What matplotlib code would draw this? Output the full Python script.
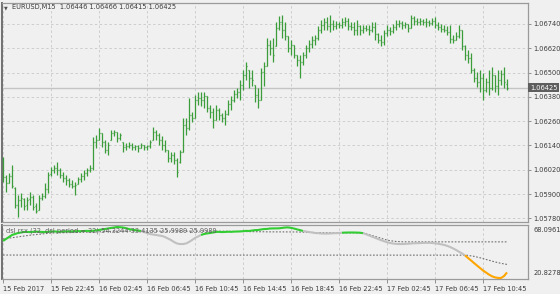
import matplotlib
matplotlib.use('Agg')
import matplotlib.pyplot as plt
import matplotlib.transforms as mtransforms
import numpy as np

plt.rcParams['font.family'] = ['DejaVu Sans']

# EURUSD M15 bars (open, high, low, close)
opens = [1.06069, 1.05985, 1.05955, 1.05990, 1.05930, 1.05846, 1.05871, 1.05876, 1.05846, 1.05876,
         1.05886, 1.05841, 1.05822, 1.05881, 1.05891, 1.05925, 1.05999, 1.06019, 1.06029, 1.06019,
         1.05995, 1.05980, 1.05970, 1.05950, 1.05940, 1.05950, 1.05975, 1.05990, 1.06004, 1.06019,
         1.06029, 1.06158, 1.06167, 1.06202, 1.06158, 1.06118, 1.06167, 1.06202, 1.06207, 1.06177,
         1.06158, 1.06133, 1.06138, 1.06143, 1.06133, 1.06138, 1.06128, 1.06143, 1.06133, 1.06138,
         1.06167, 1.06207, 1.06192, 1.06167, 1.06143, 1.06118, 1.06078, 1.06093, 1.06069, 1.06059,
         1.06108, 1.06242, 1.06227, 1.06291, 1.06276, 1.06365, 1.06375, 1.06365, 1.06385, 1.06325,
         1.06306, 1.06266, 1.06316, 1.06291, 1.06276, 1.06296, 1.06345, 1.06365, 1.06395, 1.06405,
         1.06439, 1.06489, 1.06513, 1.06474, 1.06439, 1.06390, 1.06365, 1.06503, 1.06533, 1.06637,
         1.06622, 1.06632, 1.06721, 1.06750, 1.06711, 1.06681, 1.06622, 1.06637, 1.06587, 1.06563,
         1.06553, 1.06587, 1.06622, 1.06642, 1.06661, 1.06671, 1.06711, 1.06736, 1.06750, 1.06731,
         1.06740, 1.06731, 1.06740, 1.06736, 1.06750, 1.06755, 1.06731, 1.06726, 1.06711, 1.06731,
         1.06711, 1.06721, 1.06716, 1.06711, 1.06726, 1.06691, 1.06661, 1.06652, 1.06696, 1.06711,
         1.06706, 1.06726, 1.06740, 1.06745, 1.06736, 1.06740, 1.06721, 1.06770, 1.06755, 1.06750,
         1.06755, 1.06750, 1.06750, 1.06745, 1.06755, 1.06736, 1.06726, 1.06716, 1.06711, 1.06701,
         1.06666, 1.06661, 1.06681, 1.06711, 1.06632, 1.06587, 1.06572, 1.06513, 1.06474, 1.06454,
         1.06474, 1.06414, 1.06454, 1.06424, 1.06489, 1.06434, 1.06464, 1.06493, 1.06446]
highs = [1.06083, 1.05995, 1.06004, 1.06044, 1.05935, 1.05896, 1.05906, 1.05881, 1.05886, 1.05911,
         1.05896, 1.05856, 1.05896, 1.05906, 1.05955, 1.06009, 1.06034, 1.06044, 1.06059, 1.06029,
         1.06009, 1.05995, 1.05980, 1.05970, 1.05960, 1.05985, 1.06004, 1.06019, 1.06029, 1.06044,
         1.06182, 1.06192, 1.06227, 1.06202, 1.06167, 1.06158, 1.06217, 1.06217, 1.06207, 1.06202,
         1.06158, 1.06153, 1.06158, 1.06153, 1.06143, 1.06143, 1.06153, 1.06143, 1.06143, 1.06167,
         1.06232, 1.06217, 1.06202, 1.06187, 1.06167, 1.06118, 1.06108, 1.06108, 1.06078, 1.06118,
         1.06276, 1.06276, 1.06375, 1.06306, 1.06390, 1.06405, 1.06405, 1.06405, 1.06385, 1.06340,
         1.06325, 1.06340, 1.06325, 1.06301, 1.06316, 1.06365, 1.06385, 1.06414, 1.06424, 1.06464,
         1.06513, 1.06553, 1.06513, 1.06513, 1.06439, 1.06424, 1.06523, 1.06553, 1.06671, 1.06661,
         1.06671, 1.06750, 1.06780, 1.06785, 1.06750, 1.06681, 1.06661, 1.06637, 1.06587, 1.06587,
         1.06602, 1.06637, 1.06661, 1.06681, 1.06686, 1.06731, 1.06760, 1.06770, 1.06775, 1.06785,
         1.06760, 1.06755, 1.06750, 1.06770, 1.06775, 1.06770, 1.06750, 1.06750, 1.06760, 1.06736,
         1.06736, 1.06736, 1.06736, 1.06750, 1.06750, 1.06696, 1.06686, 1.06711, 1.06736, 1.06726,
         1.06740, 1.06760, 1.06760, 1.06755, 1.06750, 1.06740, 1.06785, 1.06780, 1.06770, 1.06770,
         1.06765, 1.06770, 1.06760, 1.06770, 1.06775, 1.06750, 1.06740, 1.06736, 1.06731, 1.06736,
         1.06686, 1.06701, 1.06736, 1.06711, 1.06637, 1.06612, 1.06597, 1.06523, 1.06503, 1.06513,
         1.06498, 1.06474, 1.06513, 1.06528, 1.06489, 1.06513, 1.06513, 1.06528, 1.06466]
lows = [1.05960, 1.05911, 1.05955, 1.05930, 1.05831, 1.05787, 1.05836, 1.05822, 1.05822, 1.05846,
        1.05822, 1.05807, 1.05822, 1.05871, 1.05881, 1.05906, 1.05990, 1.06004, 1.05995, 1.05980,
        1.05960, 1.05945, 1.05935, 1.05930, 1.05896, 1.05950, 1.05960, 1.05970, 1.05990, 1.06009,
        1.06019, 1.06128, 1.06167, 1.06133, 1.06103, 1.06093, 1.06167, 1.06187, 1.06158, 1.06167,
        1.06108, 1.06118, 1.06128, 1.06118, 1.06118, 1.06108, 1.06128, 1.06118, 1.06118, 1.06128,
        1.06167, 1.06167, 1.06143, 1.06118, 1.06108, 1.06059, 1.06059, 1.06049, 1.05985, 1.06054,
        1.06108, 1.06192, 1.06217, 1.06256, 1.06276, 1.06340, 1.06335, 1.06325, 1.06306, 1.06276,
        1.06227, 1.06266, 1.06266, 1.06256, 1.06242, 1.06291, 1.06316, 1.06355, 1.06375, 1.06365,
        1.06414, 1.06464, 1.06424, 1.06434, 1.06355, 1.06325, 1.06365, 1.06434, 1.06533, 1.06587,
        1.06553, 1.06632, 1.06711, 1.06671, 1.06661, 1.06602, 1.06587, 1.06572, 1.06533, 1.06474,
        1.06538, 1.06572, 1.06602, 1.06622, 1.06637, 1.06661, 1.06696, 1.06711, 1.06711, 1.06701,
        1.06711, 1.06716, 1.06721, 1.06721, 1.06731, 1.06711, 1.06711, 1.06686, 1.06686, 1.06686,
        1.06696, 1.06706, 1.06686, 1.06701, 1.06661, 1.06647, 1.06632, 1.06637, 1.06681, 1.06686,
        1.06696, 1.06711, 1.06726, 1.06716, 1.06721, 1.06701, 1.06721, 1.06736, 1.06736, 1.06736,
        1.06736, 1.06726, 1.06731, 1.06736, 1.06721, 1.06711, 1.06701, 1.06701, 1.06686, 1.06647,
        1.06647, 1.06661, 1.06671, 1.06612, 1.06563, 1.06548, 1.06498, 1.06453, 1.06429, 1.06405,
        1.06365, 1.06405, 1.06390, 1.06414, 1.06405, 1.06390, 1.06439, 1.06424, 1.06415]
closes = [1.05985, 1.05955, 1.05990, 1.05940, 1.05846, 1.05871, 1.05881, 1.05841, 1.05871, 1.05886,
          1.05836, 1.05817, 1.05881, 1.05891, 1.05925, 1.05995, 1.06019, 1.06029, 1.06019, 1.05995,
          1.05980, 1.05970, 1.05950, 1.05940, 1.05945, 1.05975, 1.05990, 1.06004, 1.06019, 1.06029,
          1.06158, 1.06167, 1.06202, 1.06158, 1.06118, 1.06143, 1.06202, 1.06207, 1.06177, 1.06192,
          1.06133, 1.06138, 1.06143, 1.06133, 1.06138, 1.06128, 1.06143, 1.06133, 1.06138, 1.06158,
          1.06207, 1.06192, 1.06167, 1.06143, 1.06118, 1.06078, 1.06093, 1.06069, 1.06009, 1.06108,
          1.06242, 1.06227, 1.06291, 1.06276, 1.06365, 1.06375, 1.06365, 1.06385, 1.06325, 1.06306,
          1.06266, 1.06316, 1.06291, 1.06276, 1.06296, 1.06345, 1.06365, 1.06395, 1.06405, 1.06439,
          1.06489, 1.06533, 1.06474, 1.06464, 1.06390, 1.06365, 1.06503, 1.06533, 1.06637, 1.06622,
          1.06587, 1.06721, 1.06750, 1.06711, 1.06681, 1.06622, 1.06637, 1.06587, 1.06563, 1.06553,
          1.06587, 1.06622, 1.06642, 1.06661, 1.06671, 1.06711, 1.06736, 1.06750, 1.06731, 1.06740,
          1.06731, 1.06740, 1.06736, 1.06750, 1.06755, 1.06731, 1.06726, 1.06711, 1.06731, 1.06711,
          1.06721, 1.06716, 1.06711, 1.06726, 1.06691, 1.06661, 1.06652, 1.06696, 1.06711, 1.06706,
          1.06726, 1.06740, 1.06745, 1.06736, 1.06740, 1.06721, 1.06770, 1.06755, 1.06750, 1.06755,
          1.06750, 1.06750, 1.06745, 1.06755, 1.06736, 1.06726, 1.06716, 1.06711, 1.06701, 1.06666,
          1.06661, 1.06681, 1.06711, 1.06632, 1.06587, 1.06572, 1.06513, 1.06474, 1.06454, 1.06474,
          1.06414, 1.06454, 1.06424, 1.06489, 1.06434, 1.06464, 1.06493, 1.06454, 1.06425]

time_labels = ['15 Feb 2017', '15 Feb 22:45', '16 Feb 02:45', '16 Feb 06:45', '16 Feb 10:45',
               '16 Feb 14:45', '16 Feb 18:45', '16 Feb 22:45', '17 Feb 02:45', '17 Feb 06:45',
               '17 Feb 10:45']
bars_per_label = 16
price_ticks = [1.05780, 1.05900, 1.06020, 1.06140, 1.06260, 1.06380, 1.06500, 1.06620, 1.06740]
last_price = 1.06425

# dsl rsx indicator
rsx = [55.1, 57.0, 58.8, 60.7, 61.6, 62.5, 63.0, 63.5, 63.5, 63.4,
       63.6, 63.8, 63.7, 63.5, 63.4, 63.6, 63.9, 64.0, 63.8, 63.7,
       63.9, 64.0, 64.1, 64.0, 64.2, 64.3, 64.2, 64.4, 64.5, 64.4,
       64.6, 64.9, 65.3, 65.8, 66.2, 66.7, 67.2, 67.6, 68.0961, 67.9,
       67.6, 67.0, 66.2, 65.6, 65.2, 64.8, 64.4, 63.5, 62.5, 61.6,
       61.1, 60.7, 60.2, 59.8, 58.8, 57.4, 56.0, 54.2, 52.8, 52.3,
       52.3, 52.8, 54.2, 56.0, 57.9, 59.3, 60.7, 61.6, 62.1, 62.5,
       63.0, 63.5, 63.6, 63.4, 63.5, 63.7, 63.6, 63.8, 63.9, 64.0,
       64.2, 64.5, 64.4, 64.8, 65.2, 65.3, 65.8, 66.2, 66.3, 66.7,
       66.8, 66.8, 66.9, 67.2, 67.6, 67.7, 67.3, 66.7, 65.9, 65.2,
       64.4, 63.9, 63.4, 63.0, 62.5, 62.4, 62.1, 62.0, 62.0, 62.1,
       62.3, 62.4, 62.5, 62.8, 62.9, 63.0, 63.0, 63.0, 62.9, 62.8,
       62.4, 61.4, 60.3, 59.2, 58.1, 57.0, 55.9, 54.9, 54.0, 53.3,
       52.8, 52.5, 52.3, 52.3, 52.4, 52.6, 52.8, 53.0, 53.1, 53.2,
       53.3, 53.4, 53.4, 53.3, 53.0, 52.6, 52.1, 51.5, 50.7, 49.6,
       48.3, 46.8, 45.2, 43.6, 41.8, 39.4, 37.1, 34.7, 32.4, 30.1,
       27.8, 25.9, 24.0, 22.4, 21.4, 20.9, 20.8278, 22.6, 25.9989]
level_up = ([57.0, 57.4, 57.8, 58.2, 58.6, 59.0, 59.4, 59.8, 60.1, 60.5,
             60.8, 61.1, 61.4, 61.7, 62.0, 62.2, 62.5, 62.6, 62.7, 62.7,
             62.8, 62.8, 62.9, 63.0, 63.0, 63.1, 63.1, 63.2, 63.3, 63.3,
             63.4, 63.5, 63.6, 63.7, 63.8, 63.9, 64.0, 64.1, 64.2, 64.3,
             64.3, 64.4, 64.4, 64.4, 64.4, 64.4, 64.4, 64.4, 64.4, 64.4]
            + [64.4] * 20
            + [64.4, 64.3, 64.3, 64.2, 64.2, 64.1, 64.1, 64.0, 64.0, 63.9,
               63.9, 63.8, 63.8, 63.8, 63.7, 63.7, 63.7, 63.6, 63.6, 63.6,
               63.6, 63.6, 63.6, 63.6, 63.6, 63.6, 63.6, 63.6, 63.5, 63.4,
               63.3, 63.2, 63.1, 63.0, 62.9, 62.8, 62.7, 62.7, 62.7, 62.7]
            + [62.7] * 10
            + [62.5, 61.8, 61.0, 60.2, 59.4, 58.5, 57.6, 56.8, 56.0, 55.4,
               55.0, 54.7, 54.5, 54.4]
            + [54.3244] * 35)
level_dn = [42.1] * 154 + [42.0, 41.8, 41.4, 40.9, 40.3, 39.6, 38.8, 38.0, 37.2, 36.4,
                           35.7, 35.0, 34.4, 33.9, 33.4135]
# colour state of the rsx line: (state, first bar, last bar)
rsx_runs = [('up', 0, 46), ('flat', 46, 66), ('up', 66, 100), ('flat', 100, 113),
            ('up', 113, 120), ('flat', 120, 154), ('down', 154, 168)]
ind_max, ind_min = 68.0961, 20.8278

run_colors = {'up': '#32cd32', 'flat': '#c0c0c0', 'down': '#ffa500'}
bar_color = '#3a9d3a'
grid_color = '#cdcdcd'
text_color = '#3c3c3c'
bg = '#f0f0f0'

W, H = 560, 294


def box(x0, y0, x1, y1):
    return [x0 / W, 1 - y1 / H, (x1 - x0) / W, (y1 - y0) / H]


fig = plt.figure(figsize=(W / 100, H / 100), dpi=100, facecolor=bg)
ax = fig.add_axes(box(2, 3, 528, 222), facecolor=bg)
axi = fig.add_axes(box(2, 225, 528, 279), facecolor=bg)

x = np.arange(len(closes))
xmin, xmax = -1 / 3, 175

# ---- price panel ----
for p in price_ticks:
    ax.axhline(p, color=grid_color, lw=0.7, dashes=(2.5, 2.5), zorder=0)
for k in range(len(time_labels)):
    ax.axvline(k * bars_per_label, color=grid_color, lw=0.7, dashes=(2.5, 2.5), zorder=0)
ax.axhline(last_price, color='#c4c4c4', lw=1.0, zorder=1)

ax.vlines(x, lows, highs, color=bar_color, lw=0.9, zorder=3)
ax.hlines(opens, x - 0.4, x, color=bar_color, lw=0.9, zorder=3)
ax.hlines(closes, x, x + 0.4, color=bar_color, lw=0.9, zorder=3)

ax.set_xlim(xmin, xmax)
ax.set_ylim(1.057619, 1.068437)
ax.set_xticks([])
ax.yaxis.tick_right()
ax.set_yticks(price_ticks)
ax.set_yticklabels(['%.5f' % p for p in price_ticks])
ax.tick_params(axis='y', length=2, width=0.6, pad=2, colors='#808080',
               labelsize=4.8, labelcolor=text_color)

trans = mtransforms.blended_transform_factory(ax.transAxes, ax.transData)
ax.text(1.004, last_price, '%.5f' % last_price, transform=trans, ha='left', va='center',
        fontsize=4.8, color='white',
        bbox=dict(boxstyle='square,pad=0.25', fc='#5e5e5e', ec='none'), zorder=5)

fig.text(4 / W, 1 - 8 / H, '\u25bc', fontsize=3.5, color='#505050', ha='left', va='center')
fig.text(12 / W, 1 - 7.5 / H, 'EURUSD,M15  %.5f %.5f %.5f %.5f' % (opens[-1], highs[-1], lows[-1], closes[-1]),
         fontsize=4.8, color=text_color, ha='left', va='center')

# ---- indicator panel ----
for k in range(len(time_labels)):
    axi.axvline(k * bars_per_label, color=grid_color, lw=0.7, dashes=(2.5, 2.5), zorder=0)

axi.plot(x, level_up, color='#707070', lw=0.8, dashes=(1.5, 1.5), zorder=2)
axi.plot(x, level_dn, color='#707070', lw=0.8, dashes=(1.5, 1.5), zorder=2)
rsx_arr = np.array(rsx)
for state, a, b in rsx_runs:
    axi.plot(x[a:b + 1], rsx_arr[a:b + 1], color=run_colors[state], lw=1.5,
             solid_capstyle='butt', zorder=3)

axi.set_xlim(xmin, xmax)
axi.set_ylim(ind_min - 0.93, ind_max + 1.85)
axi.set_yticks([])
tick_pos = [k * bars_per_label for k in range(len(time_labels))]
axi.set_xticks(tick_pos)
axi.set_xticklabels(time_labels, ha='left')
axi.tick_params(axis='x', length=3, width=0.6, pad=2, colors='#808080',
                labelsize=4.8, labelcolor=text_color)
for lbl in axi.get_xticklabels():
    lbl.set_x(lbl.get_position()[0])

axi.text(1.01, 0.91, '%.4f' % ind_max, transform=axi.transAxes, ha='left', va='center',
         fontsize=4.8, color=text_color)
axi.text(1.01, 0.11, '%.4f' % ind_min, transform=axi.transAxes, ha='left', va='center',
         fontsize=4.8, color=text_color)
axi.text(4 / 526, 0.9, 'dsl rsx (32, dsl period = 32) %.4f %.4f %.4f %.4f'
         % (level_up[-1], level_dn[-1], rsx[-1], rsx[-1]),
         transform=axi.transAxes, ha='left', va='center', fontsize=4.8, color='#606060', zorder=4)

for a in (ax, axi):
    for s in a.spines.values():
        s.set_color('#9a9a9a')
        s.set_linewidth(0.9)
    a.spines['left'].set_color('#707070')
    a.spines['left'].set_linewidth(1.4)

fig.savefig('out.png', dpi=100, facecolor=bg)
